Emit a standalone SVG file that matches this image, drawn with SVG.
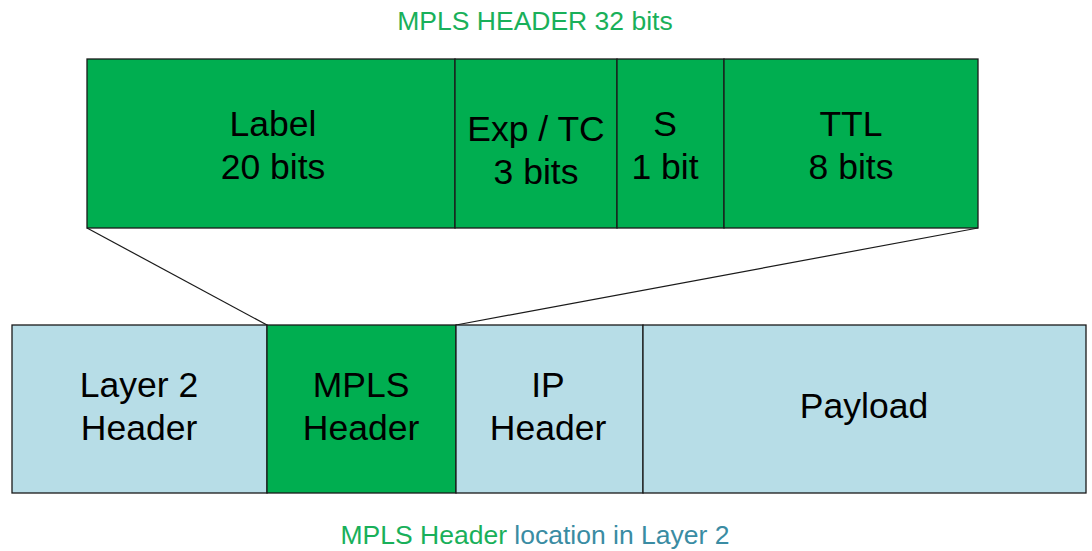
<svg xmlns="http://www.w3.org/2000/svg" width="1092" height="551" viewBox="0 0 1092 551">
  <style>
    .cell { stroke: #1a1a1a; stroke-width: 1.3; }
    .green { fill: #00AE50; }
    .blue { fill: #B7DDE7; }
    .lbl { font-family: "Liberation Sans", Arial, sans-serif; font-size: 35.5px; fill: #000; text-anchor: middle; }
    .title { font-family: "Liberation Sans", Arial, sans-serif; font-size: 26.5px; text-anchor: middle; }
    .conn { stroke: #1a1a1a; stroke-width: 1.2; fill: none; }
  </style>
  <rect width="1092" height="551" fill="#fff"/>

  <text class="title" x="535" y="30" fill="#19B05A">MPLS HEADER 32 bits</text>

  <!-- MPLS header fields -->
  <g id="field-label">
    <rect class="cell green" x="87" y="59" width="368" height="169"/>
    <text class="lbl" x="273" y="136">Label</text>
    <text class="lbl" x="273" y="179">20 bits</text>
  </g>
  <g id="field-exp">
    <rect class="cell green" x="455" y="59" width="162" height="169"/>
    <text class="lbl" x="536" y="141">Exp / TC</text>
    <text class="lbl" x="536" y="184">3 bits</text>
  </g>
  <g id="field-s">
    <rect class="cell green" x="617" y="59" width="107" height="169"/>
    <text class="lbl" x="665" y="136">S</text>
    <text class="lbl" x="665" y="179">1 bit</text>
  </g>
  <g id="field-ttl">
    <rect class="cell green" x="724" y="59" width="254" height="169"/>
    <text class="lbl" x="851" y="136">TTL</text>
    <text class="lbl" x="851" y="179">8 bits</text>
  </g>

  <!-- expansion lines -->
  <g id="connectors">
    <line class="conn" x1="87" y1="228" x2="267" y2="325"/>
    <line class="conn" x1="978" y1="228" x2="456" y2="325"/>
  </g>

  <!-- Layer 2 frame -->
  <g id="l2-header">
    <rect class="cell blue" x="12" y="325" width="255" height="168"/>
    <text class="lbl" x="139" y="397">Layer 2</text>
    <text class="lbl" x="139" y="440">Header</text>
  </g>
  <g id="mpls-header">
    <rect class="cell green" x="267" y="325" width="189" height="168"/>
    <text class="lbl" x="361" y="397">MPLS</text>
    <text class="lbl" x="361" y="440">Header</text>
  </g>
  <g id="ip-header">
    <rect class="cell blue" x="456" y="325" width="187" height="168"/>
    <text class="lbl" x="548" y="397">IP</text>
    <text class="lbl" x="548" y="440">Header</text>
  </g>
  <g id="payload">
    <rect class="cell blue" x="643" y="325" width="443" height="168"/>
    <text class="lbl" x="864" y="418">Payload</text>
  </g>

  <text class="title" x="535" y="544"><tspan fill="#19B05A">MPLS Header</tspan> <tspan fill="#3A8CA3">location in Layer 2</tspan></text>
</svg>
